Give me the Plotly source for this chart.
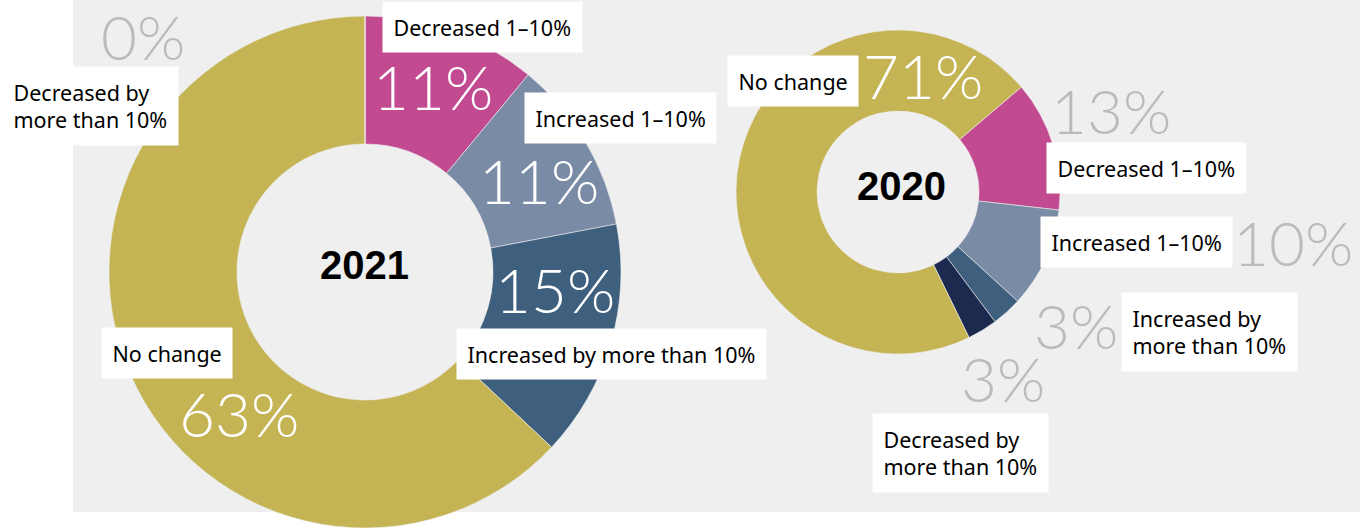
import plotly.graph_objects as go

# ---------------- data ----------------
categories_2021 = ["Decreased 1–10%", "Increased 1–10%", "Increased by more than 10%",
                   "No change", "Decreased by more than 10%"]
values_2021 = [11, 11, 15, 63, 0]

categories_2020 = ["Decreased 1–10%", "Increased 1–10%", "Increased by more than 10%",
                   "Decreased by more than 10%", "No change"]
values_2020 = [13, 10, 3, 3, 71]

years = ["2021", "2020"]

# ---------------- style ----------------
W, H = 1360, 528
color_map = {
    "Decreased 1–10%": "#C24A91",
    "Increased 1–10%": "#7A8CA5",
    "Increased by more than 10%": "#3E5F7D",
    "Decreased by more than 10%": "#1B2A4E",
    "No change": "#C4B454",
}
# where the label is wrapped onto two lines
wrap = {
    "2021": {"Decreased by more than 10%"},
    "2020": {"Decreased by more than 10%", "Increased by more than 10%"},
}

def label_text(yr, c):
    if c in wrap[yr]:
        return c.replace(" more", "<br>more")
    return c

def px(x, y):
    return x / W, 1 - y / H

# pie geometry (pixel centre, radius)
geom = {"2021": (365, 272, 256), "2020": (898, 192, 162)}
rotation = {"2021": 0, "2020": 49.6}

# label box centres (pixels) and percentage positions (pixels, colour)
label_pos = {
    "2021": {
        "Decreased by more than 10%": (90, 106),
        "Decreased 1–10%": (482, 27),
        "Increased 1–10%": (620, 118),
        "Increased by more than 10%": (611, 354),
        "No change": (167, 353),
    },
    "2020": {
        "No change": (793, 81),
        "Decreased 1–10%": (1146, 168),
        "Increased 1–10%": (1136, 242),
        "Increased by more than 10%": (1209, 332),
        "Decreased by more than 10%": (960, 453),
    },
}
pct_pos = {
    "2021": {
        "Decreased by more than 10%": (143, 36, "#BBBBBB"),
        "Decreased 1–10%": (433, 86, "white"),
        "Increased 1–10%": (539, 180, "white"),
        "Increased by more than 10%": (555, 289, "white"),
        "No change": (239, 413, "white"),
    },
    "2020": {
        "No change": (923, 75, "white"),
        "Decreased 1–10%": (1111, 110, "#BBBBBB"),
        "Increased 1–10%": (1293, 242, "#BBBBBB"),
        "Increased by more than 10%": (1076, 325, "#BBBBBB"),
        "Decreased by more than 10%": (1003, 378, "#BBBBBB"),
    },
}
year_pos = {"2021": (364, 265), "2020": (901, 186)}

fig = go.Figure()
annotations = []
data = {"2021": (categories_2021, values_2021), "2020": (categories_2020, values_2020)}

for yr in years:
    cats, vals = data[yr]
    cx, cy, r = geom[yr]
    fig.add_trace(go.Pie(
        labels=cats, values=vals, hole=0.5, sort=False, direction="clockwise",
        rotation=rotation[yr], textinfo="none", hoverinfo="label+percent",
        marker=dict(colors=[color_map[c] for c in cats], line=dict(color="#EFEFEF", width=0.6)),
        domain=dict(x=[(cx - r) / W, (cx + r) / W], y=[1 - (cy + r) / H, 1 - (cy - r) / H]),
        showlegend=False,
    ))
    for c, v in zip(cats, vals):
        lx, ly = px(*label_pos[yr][c])
        annotations.append(dict(
            x=lx, y=ly, xref="paper", yref="paper", xanchor="center", yanchor="middle",
            text=label_text(yr, c), showarrow=False, align="left",
            font=dict(family="Noto Sans", size=21.5, color="black"),
            bgcolor="white", borderpad=10.5,
        ))
        pxp, pyp, col = pct_pos[yr][c]
        qx, qy = px(pxp, pyp)
        annotations.append(dict(
            x=qx, y=qy, xref="paper", yref="paper", xanchor="center", yanchor="middle",
            text=f"{v}%", showarrow=False,
            font=dict(family="Lato", size=62, color=col, weight=300),
        ))
    yx, yy = px(*year_pos[yr])
    annotations.append(dict(
        x=yx, y=yy, xref="paper", yref="paper", xanchor="center", yanchor="middle",
        text=f"<b>{yr}</b>", showarrow=False,
        font=dict(family="Liberation Sans", size=40, color="black"),
    ))

fig.update_layout(
    width=W, height=H, margin=dict(l=0, r=0, t=0, b=0),
    paper_bgcolor="white", plot_bgcolor="white",
    shapes=[dict(type="rect", xref="paper", yref="paper", x0=73 / W, x1=1,
                 y0=1 - 512 / H, y1=1, fillcolor="#EFEFEF", line=dict(width=0), layer="below")],
    annotations=annotations,
)

fig.write_html("out.html")
